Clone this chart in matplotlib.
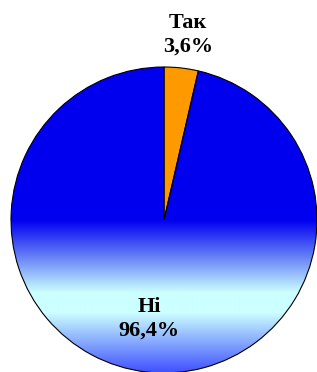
import numpy as np
import matplotlib.pyplot as plt

# answer shares, %
labels = ["Так", "Ні"]
shares = [3.6, 96.4]
pct_text = ["3,6%", "96,4%"]
colors = ["#FF9900", "#0000F0"]

W, H = 317, 372
cx, cy, r = 164, H - 220, 153

fig = plt.figure(figsize=(W / 100, H / 100), dpi=100)
ax = fig.add_axes([0, 0, 1, 1])

wedges, _ = ax.pie(shares, colors=colors, startangle=90, counterclock=False,
                   center=(cx, cy), radius=r,
                   wedgeprops=dict(edgecolor="black", linewidth=0.8))
ax.set_xlim(0, W)
ax.set_ylim(0, H)
ax.set_aspect("auto")
ax.axis("off")

# vertical gradient fill for the big slice: solid blue on top half,
# fading to pale cyan and back towards blue at the bottom
yp = np.arange(H)
stops = [0, 220, 292, 312, 375]
red = np.interp(yp, stops, [0.0, 0.0, 0.80, 0.80, 0.22])
green = np.interp(yp, stops, [0.0, 0.0, 1.00, 1.00, 0.28])
blue = np.interp(yp, stops, [0.94, 0.94, 1.00, 1.00, 1.00])
grad = np.stack([red, green, blue], axis=1)[:, None, :].repeat(2, axis=1)
im = ax.imshow(grad, extent=(0, W, 0, H), origin="upper", aspect="auto",
               interpolation="bilinear", zorder=1)
im.set_clip_path(wedges[1])
wedges[1].set_facecolor("none")
for w in wedges:
    w.set_zorder(2)

font = dict(family="Liberation Serif", weight="bold", size=16)
ax.text(188, H - 35, f"{labels[0]}\n{pct_text[0]}", ha="center", va="center",
        linespacing=1.25, **font)
ax.text(149, H - 319, f"{labels[1]}\n{pct_text[1]}", ha="center", va="center",
        linespacing=1.25, zorder=3, **font)

fig.savefig("out.png", dpi=100)
